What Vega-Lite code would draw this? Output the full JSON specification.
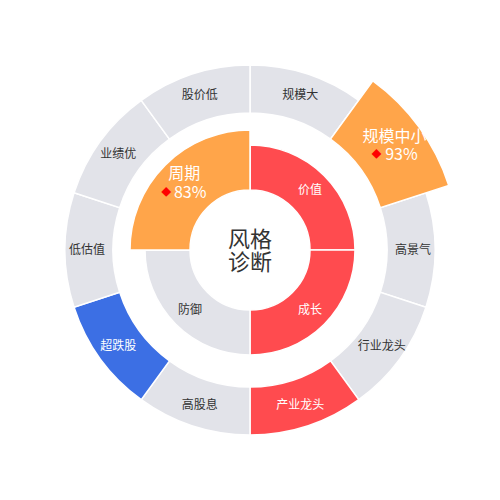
{
  "$schema": "https://vega.github.io/schema/vega-lite/v6.json",
  "width": 500,
  "height": 500,
  "autosize": {"type": "fit", "contains": "padding"},
  "config": {"view": {"stroke": null}, "font": "Noto Sans CJK SC"},
  "datasets": {
    "outer": [
      {"i": 0, "name": "规模大", "status": "neutral", "v": 1},
      {"i": 1, "name": "规模中小", "status": "warm", "v": 1, "pct": 0.93},
      {"i": 2, "name": "高景气", "status": "neutral", "v": 1},
      {"i": 3, "name": "行业龙头", "status": "neutral", "v": 1},
      {"i": 4, "name": "产业龙头", "status": "hot", "v": 1},
      {"i": 5, "name": "高股息", "status": "neutral", "v": 1},
      {"i": 6, "name": "超跌股", "status": "cold", "v": 1},
      {"i": 7, "name": "低估值", "status": "neutral", "v": 1},
      {"i": 8, "name": "业绩优", "status": "neutral", "v": 1},
      {"i": 9, "name": "股价低", "status": "neutral", "v": 1}
    ],
    "inner": [
      {"i": 0, "name": "价值", "status": "hot", "v": 1},
      {"i": 1, "name": "成长", "status": "hot", "v": 1},
      {"i": 2, "name": "防御", "status": "neutral", "v": 1},
      {"i": 3, "name": "周期", "status": "warm", "v": 1, "pct": 0.83}
    ],
    "center": [{"title": "风格\n诊断"}]
  },
  "layer": [
    {
      "data": {"name": "outer"},
      "mark": {"type": "arc", "radius": 185, "radius2": 137, "stroke": "#ffffff", "strokeWidth": 1.5},
      "encoding": {
        "theta": {"field": "v", "type": "quantitative", "stack": true},
        "order": {"field": "i", "type": "quantitative"},
        "color": {"field": "status", "type": "nominal", "legend": null,
          "scale": {"domain": ["neutral", "hot", "warm", "cold"], "range": ["#e2e3e9", "#ff4b4f", "#ffa54a", "#3c6fe4"]}}
      }
    },
    {
      "data": {"name": "outer"},
      "mark": {"type": "arc", "radius": 209, "radius2": 137, "stroke": "#ffffff", "strokeWidth": 1.5},
      "encoding": {
        "theta": {"field": "v", "type": "quantitative", "stack": true},
        "order": {"field": "i", "type": "quantitative"},
        "color": {"field": "status", "type": "nominal", "legend": null,
          "scale": {"domain": ["neutral", "hot", "warm", "cold"], "range": ["#e2e3e9", "#ff4b4f", "#ffa54a", "#3c6fe4"]}},
        "opacity": {"condition": {"test": "datum.pct != null", "value": 1}, "value": 0}
      }
    },
    {
      "data": {"name": "inner"},
      "mark": {"type": "arc", "radius": 105, "radius2": 60, "stroke": "#ffffff", "strokeWidth": 1.5},
      "encoding": {
        "theta": {"field": "v", "type": "quantitative", "stack": true},
        "order": {"field": "i", "type": "quantitative"},
        "color": {"field": "status", "type": "nominal", "legend": null,
          "scale": {"domain": ["neutral", "hot", "warm", "cold"], "range": ["#e2e3e9", "#ff4b4f", "#ffa54a", "#3c6fe4"]}}
      }
    },
    {
      "data": {"name": "inner"},
      "mark": {"type": "arc", "radius": 120, "radius2": 60, "stroke": "#ffffff", "strokeWidth": 1.5},
      "encoding": {
        "theta": {"field": "v", "type": "quantitative", "stack": true},
        "order": {"field": "i", "type": "quantitative"},
        "color": {"field": "status", "type": "nominal", "legend": null,
          "scale": {"domain": ["neutral", "hot", "warm", "cold"], "range": ["#e2e3e9", "#ff4b4f", "#ffa54a", "#3c6fe4"]}},
        "opacity": {"condition": {"test": "datum.pct != null", "value": 1}, "value": 0}
      }
    },
    {
      "data": {"name": "outer"},
      "mark": {"type": "text", "radius": 163, "fontSize": 12},
      "encoding": {
        "theta": {"field": "v", "type": "quantitative", "stack": true},
        "order": {"field": "i", "type": "quantitative"},
        "text": {"condition": {"test": "datum.pct == null", "field": "name"}, "value": ""},
        "color": {"condition": {"test": "datum.status == 'neutral'", "value": "#333333"}, "value": "#ffffff"}
      }
    },
    {
      "data": {"name": "outer"},
      "mark": {"type": "text", "radius": 176, "fontSize": 16, "dy": -10, "dx": 2, "color": "#ffffff"},
      "encoding": {
        "theta": {"field": "v", "type": "quantitative", "stack": true},
        "order": {"field": "i", "type": "quantitative"},
        "text": {"condition": {"test": "datum.pct != null", "field": "name"}, "value": ""}
      }
    },
    {
      "data": {"name": "outer"},
      "mark": {"type": "text", "radius": 176, "fontSize": 16, "dy": 8, "dx": 9, "color": "#ffffff"},
      "encoding": {
        "theta": {"field": "v", "type": "quantitative", "stack": true},
        "order": {"field": "i", "type": "quantitative"},
        "text": {"condition": {"test": "datum.pct != null", "field": "pct", "type": "quantitative", "format": ".0%"}, "value": ""}
      }
    },
    {
      "data": {"name": "outer"},
      "mark": {"type": "text", "radius": 176, "fontSize": 10, "dy": 8, "dx": -16, "color": "#ff0000"},
      "encoding": {
        "theta": {"field": "v", "type": "quantitative", "stack": true},
        "order": {"field": "i", "type": "quantitative"},
        "text": {"condition": {"test": "datum.pct != null", "value": "◆"}, "value": ""}
      }
    },
    {
      "data": {"name": "inner"},
      "mark": {"type": "text", "radius": 85, "fontSize": 12},
      "encoding": {
        "theta": {"field": "v", "type": "quantitative", "stack": true},
        "order": {"field": "i", "type": "quantitative"},
        "text": {"condition": {"test": "datum.pct == null", "field": "name"}, "value": ""},
        "color": {"condition": {"test": "datum.status == 'neutral'", "value": "#333333"}, "value": "#ffffff"}
      }
    },
    {
      "data": {"name": "inner"},
      "mark": {"type": "text", "radius": 93, "fontSize": 16, "dy": -10, "color": "#ffffff"},
      "encoding": {
        "theta": {"field": "v", "type": "quantitative", "stack": true},
        "order": {"field": "i", "type": "quantitative"},
        "text": {"condition": {"test": "datum.pct != null", "field": "name"}, "value": ""}
      }
    },
    {
      "data": {"name": "inner"},
      "mark": {"type": "text", "radius": 93, "fontSize": 16, "dy": 9, "dx": 6, "color": "#ffffff"},
      "encoding": {
        "theta": {"field": "v", "type": "quantitative", "stack": true},
        "order": {"field": "i", "type": "quantitative"},
        "text": {"condition": {"test": "datum.pct != null", "field": "pct", "type": "quantitative", "format": ".0%"}, "value": ""}
      }
    },
    {
      "data": {"name": "inner"},
      "mark": {"type": "text", "radius": 93, "fontSize": 10, "dy": 9, "dx": -18, "color": "#ff0000"},
      "encoding": {
        "theta": {"field": "v", "type": "quantitative", "stack": true},
        "order": {"field": "i", "type": "quantitative"},
        "text": {"condition": {"test": "datum.pct != null", "value": "◆"}, "value": ""}
      }
    },
    {
      "data": {"name": "center"},
      "mark": {"type": "text", "fontSize": 22, "lineBreak": "\n", "lineHeight": 23, "dy": -10, "color": "#333333"},
      "encoding": {
        "text": {"field": "title"}
      }
    }
  ],
  "resolve": {"scale": {"theta": "independent"}}
}
